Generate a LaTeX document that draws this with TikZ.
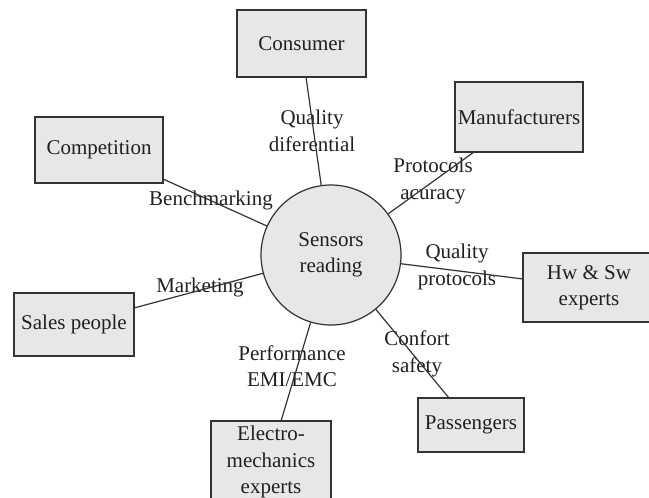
\documentclass[tikz,border=0pt]{standalone}
\usepackage{fontspec}
\setmainfont{Liberation Serif}
\definecolor{boxfill}{HTML}{E6E7E9}
\definecolor{linec}{HTML}{333333}
\definecolor{txt}{HTML}{231F20}
\begin{document}
\begin{tikzpicture}[x=1pt,y=-1pt,
  txtfont/.style={font=\fontsize{21}{26.5}\selectfont, text=txt},
  box/.style={rectangle, draw=linec, fill=boxfill, line width=1.2pt, inner sep=0pt, align=center, txtfont},
  hub/.style={circle, draw=linec, fill=boxfill, line width=1.2pt, minimum size=140pt, inner sep=0pt, align=center, txtfont},
  lab/.style={align=center, inner sep=0pt, txtfont},
  link/.style={draw=linec, line width=1.2pt}]
\useasboundingbox (0,0) rectangle (649,498);
\clip (0,0) rectangle (649,498);
% labels
\node[lab] (l1) at (312,131) {Quality\\diferential};
\node[lab] (l2) at (211,200) {Benchmarking};
\node[lab] (l3) at (433,181) {Protocols\\acuracy};
\node[lab] (l4) at (457,267) {Quality\\protocols};
\node[lab] (l5) at (200,287) {Marketing};
\node[lab] (l6) at (292,366) {Performance\\EMI/EMC};
\node[lab] (l7) at (417,354) {Confort\\safety};
% hub and boxes
\node[hub] (c) at (331,255) {Sensors\\reading};
\node[box, minimum width=129pt, minimum height=67pt] (cons) at (301.5,43.5) {Consumer};
\node[box, minimum width=128pt, minimum height=66pt] (comp) at (99,150) {Competition};
\node[box, minimum width=128pt, minimum height=70pt] (manu) at (519,117) {Manufacturers};
\node[box, minimum width=132pt, minimum height=69pt] (hw) at (589,287.5) {Hw \& Sw\\experts};
\node[box, minimum width=120pt, minimum height=63pt] (sales) at (74,324.5) {Sales people};
\node[box, minimum width=120pt, minimum height=82pt] (elec) at (271,462) {Electro-\\mechanics\\experts};
\node[box, minimum width=106pt, minimum height=54pt] (pass) at (471,425) {Passengers};
% connector ends on the boxes
\coordinate (e1) at (306,77);
\coordinate (e2) at (163,179);
\coordinate (e3) at (474,152);
\coordinate (e4) at (523,279);
\coordinate (e5) at (134,308);
\coordinate (e6) at (281,421);
\coordinate (e7) at (449,398);
\draw[link] (c) -- (e1);
\draw[link] (c) -- (e2);
\draw[link] (c) -- (e3);
\draw[link] (c) -- (e4);
\draw[link] (c) -- (e5);
\draw[link] (c) -- (e6);
\draw[link] (c) -- (e7);
\end{tikzpicture}
\end{document}
